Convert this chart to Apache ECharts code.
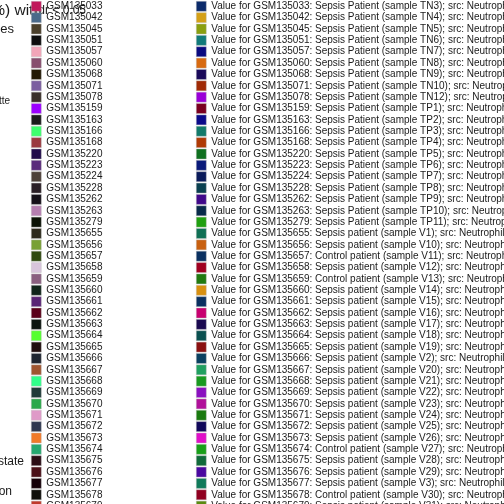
<!DOCTYPE html>
<html><head><meta charset="utf-8">
<script src="https://cdn.jsdelivr.net/npm/echarts@6/dist/echarts.min.js"></script>
<style>html,body{margin:0;padding:0;background:#fff}#c{width:504px;height:504px}</style>
</head><body><div id="c"></div>
<script>
const samples = ["GSM135033","GSM135042","GSM135045","GSM135051","GSM135057","GSM135060","GSM135068","GSM135071","GSM135078","GSM135159","GSM135163","GSM135166","GSM135168","GSM135220","GSM135223","GSM135224","GSM135228","GSM135262","GSM135263","GSM135279","GSM135655","GSM135656","GSM135657","GSM135658","GSM135659","GSM135660","GSM135661","GSM135662","GSM135663","GSM135664","GSM135665","GSM135666","GSM135667","GSM135668","GSM135669","GSM135670","GSM135671","GSM135672","GSM135673","GSM135674","GSM135675","GSM135676","GSM135677","GSM135678","GSM135679"];
const descriptions = ["Sepsis Patient (sample TN3)","Sepsis Patient (sample TN4)","Sepsis Patient (sample TN5)","Sepsis Patient (sample TN6)","Sepsis Patient (sample TN7)","Sepsis Patient (sample TN8)","Sepsis Patient (sample TN9)","Sepsis Patient (sample TN10)","Sepsis Patient (sample TN12)","Sepsis Patient (sample TP1)","Sepsis Patient (sample TP2)","Sepsis Patient (sample TP3)","Sepsis Patient (sample TP4)","Sepsis Patient (sample TP5)","Sepsis Patient (sample TP6)","Sepsis Patient (sample TP7)","Sepsis Patient (sample TP8)","Sepsis Patient (sample TP9)","Sepsis Patient (sample TP10)","Sepsis Patient (sample TP11)","Sepsis patient (sample V1)","Sepsis patient (sample V10)","Control patient (sample V11)","Sepsis patient (sample V12)","Control patient (sample V13)","Sepsis patient (sample V14)","Sepsis patient (sample V15)","Sepsis patient (sample V16)","Sepsis patient (sample V17)","Sepsis patient (sample V18)","Sepsis patient (sample V19)","Sepsis patient (sample V2)","Sepsis patient (sample V20)","Sepsis patient (sample V21)","Sepsis patient (sample V22)","Sepsis patient (sample V23)","Sepsis patient (sample V24)","Sepsis patient (sample V25)","Sepsis patient (sample V26)","Control patient (sample V27)","Sepsis patient (sample V28)","Sepsis patient (sample V29)","Sepsis patient (sample V3)","Control patient (sample V30)","Sepsis patient (sample V31)"];
const leftColors = ["#c0195a","#4a6a8a","#4a3f2a","#0d0d0d","#f2a5b8","#874e6e","#231a05","#7b5ea0","#3a302a","#9b00ff","#1c1c1c","#3dff6e","#9a3a40","#200a4a","#5a2b7b","#4d4038","#2a1f26","#141018","#b57fb0","#0a1205","#2d2a1c","#78a035","#2f4a10","#d8c5dc","#8a6080","#10251a","#5a2575","#5a0018","#0c1510","#55ff30","#1f0d0d","#1e2530","#9f5530","#30ff8a","#1f3a38","#2aa84a","#df9ac8","#2f3850","#f07a2a","#25a870","#2a0d15","#4a1018","#150008","#0f0f0a","#c0392b"];
const rightColors = ["#0b2a6a","#d4a017","#8a9f10","#117a7a","#0a0a80","#d86a10","#1a0a5a","#a02a05","#9a00d8","#7a0020","#0a0a8a","#127a6a","#b03a05","#107020","#0a1a7a","#0a1a5a","#0a4050","#40088a","#082a4a","#20a010","#107055","#c86010","#0a3060","#a00020","#207a10","#d89010","#0a3060","#c80070","#1a0a50","#0a5050","#8a1010","#0a4060","#20a060","#189a20","#8a10c0","#b0109a","#1a7a10","#10085a","#e010c8","#18a018","#106a3a","#4a08a0","#107a5a","#900020","#5a8a10"];
const sideTexts = [
  {text: "Significant genes (%) with", y: 11, size: 15.5, right: 42},
  {text: "fdr < 0.05", y: 11, size: 12, right: 86},
  {text: "Samples", y: 29, size: 13, right: 14},
  {text: "Palette", y: 101, size: 10, right: 10},
  {text: "Expression state", y: 462, size: 12, right: 24},
  {text: "Distribution", y: 492, size: 12, right: 12}
];

const valueNames = samples.map((s, i) => "Value for " + s + ": " + descriptions[i] + "; src: Neutrophils");
const series = [];
samples.forEach((s, i) => series.push({type: 'scatter', name: s, data: [], itemStyle: {color: leftColors[i], opacity: 1}}));
valueNames.forEach((s, i) => series.push({type: 'scatter', name: s, data: [], itemStyle: {color: rightColors[i], opacity: 1}}));

const legendCommon = {
  type: 'plain', orient: 'vertical', top: 1, height: 700, padding: 0,
  itemWidth: 10, itemHeight: 10, itemGap: 0.76, icon: 'rect',
  selectedMode: false,
  itemStyle: {borderColor: 'rgba(190,190,190,0.7)', borderWidth: 0.6, opacity: 1},
  textStyle: {fontFamily: 'Liberation Sans, Arial, sans-serif', fontSize: 10, color: '#1a1a1a'}
};

const chart = echarts.init(document.getElementById('c'));
chart.setOption({
  animation: false,
  grid: {left: 600, top: 0, width: 10, height: 10},
  xAxis: {show: false}, yAxis: {show: false},
  graphic: sideTexts.map(t => ({
    type: 'text', z: -1, x: t.right, y: t.y,
    style: {text: t.text, fontSize: t.size, fill: '#1a1a1a', align: 'right', verticalAlign: 'middle', fontFamily: 'Liberation Sans, Arial, sans-serif'}
  })),
  legend: [
    Object.assign({}, legendCommon, {left: 31, data: samples}),
    Object.assign({}, legendCommon, {left: 196, data: valueNames})
  ],
  series: series
});
</script></body></html>
